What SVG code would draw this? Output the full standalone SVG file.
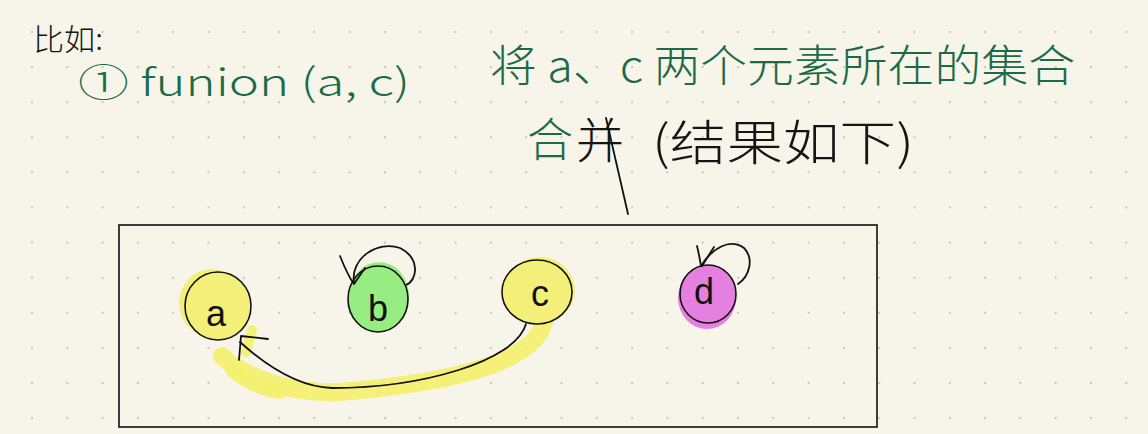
<svg xmlns="http://www.w3.org/2000/svg" width="1148" height="434" viewBox="0 0 1148 434">
<defs>
<pattern id="dots" x="31" y="31" width="35.3" height="35.1" patternUnits="userSpaceOnUse"><circle cx="1" cy="1" r="1" fill="#b9b7aa"/></pattern>
<style>
.ink{fill:none;stroke:#111;stroke-width:1.8;stroke-linecap:round;stroke-linejoin:round}
.green{fill:#1c6b47;font-family:"Noto Sans CJK SC","Noto Sans",sans-serif}
.black{fill:#151515;font-family:"Noto Sans CJK SC","Noto Sans",sans-serif}
.lbl{fill:#111;font-family:"Liberation Sans",sans-serif;font-size:36px;text-anchor:middle}
.hl{fill:none;stroke:#f3ef6c;stroke-linecap:round;stroke-linejoin:round;opacity:0.9}
</style>
</defs>
<rect width="1148" height="434" fill="#f7f5ea"/>
<rect width="1148" height="434" fill="url(#dots)"/>

<g id="notes">
<text class="black" x="33" y="50" font-size="30" font-weight="300" textLength="70" lengthAdjust="spacingAndGlyphs">比如:</text>
<text class="green" x="78" y="96" font-size="38" font-weight="300" textLength="332" lengthAdjust="spacingAndGlyphs">① funion (a, c)</text>
<text class="green" x="490" y="82" font-size="44" font-weight="300" textLength="585" lengthAdjust="spacingAndGlyphs">将 a、c 两个元素所在的集合</text>
<text class="green" x="527" y="156" font-size="46" font-weight="300">合</text>
<text class="black" x="576" y="158" font-size="48" font-weight="300">并</text>
<text class="black" x="652" y="160" font-size="48" font-weight="300" textLength="262" lengthAdjust="spacingAndGlyphs">(结果如下)</text>
<path class="ink" d="M606 118 L628 214" stroke-width="1.3"/>
</g>

<rect id="frame" x="119" y="225" width="758" height="202" fill="none" stroke="#111" stroke-width="1.6"/>

<g id="highlights">
<path class="hl" stroke-width="18" d="M545 316 C542 360 460 382 340 392 C290 394 245 378 222 356"/>
<path class="hl" stroke-width="14" d="M232 370 C250 385 265 390 280 392"/>
<path class="hl" stroke-width="10" d="M252 330 L246 352"/>
</g>

<g id="node-a">
<ellipse cx="212" cy="303" rx="33" ry="34" fill="#f3ef78"/>
<ellipse cx="218" cy="306" rx="33" ry="34" fill="#f3ef78" stroke="#111" stroke-width="1.6"/>
<text class="lbl" x="216" y="326">a</text>
</g>

<g id="node-b">
<ellipse cx="379" cy="296" rx="30" ry="34" fill="#98ed82"/>
<ellipse cx="378" cy="299" rx="30" ry="33" fill="#98ed82" stroke="#111" stroke-width="1.6"/>
<text class="lbl" x="378" y="321">b</text>
</g>

<g id="node-c">
<ellipse cx="540" cy="290" rx="35" ry="33" fill="#f3ef78"/>
<ellipse cx="537" cy="292" rx="35" ry="32" fill="#f3ef78" stroke="#111" stroke-width="1.6"/>
<text class="lbl" x="540" y="306">c</text>
</g>

<g id="node-d">
<ellipse cx="707" cy="298" rx="29" ry="31" fill="#e680e0"/>
<ellipse cx="708" cy="294" rx="28" ry="29" fill="#e680e0" stroke="#111" stroke-width="1.6"/>
<text class="lbl" x="704" y="304">d</text>
</g>

<g id="connectors">
<path class="ink" d="M526 324 C515 362 420 388 332 388 C296 387 262 362 240 342"/>
<path class="ink" d="M268 339 L241 336 L239 360"/>
<path class="ink" d="M354 283 C350 258 378 240 400 248 C420 258 418 280 406 285"/>
<path class="ink" d="M340 256 C344 266 348 276 354 284 M365 268 L354 284"/>
<path class="ink" d="M701 266 C712 248 730 238 744 248 C754 258 750 276 738 284"/>
<path class="ink" d="M697 246 C699 254 700 260 701 266 M714 247 L702 266"/>
</g>
</svg>
